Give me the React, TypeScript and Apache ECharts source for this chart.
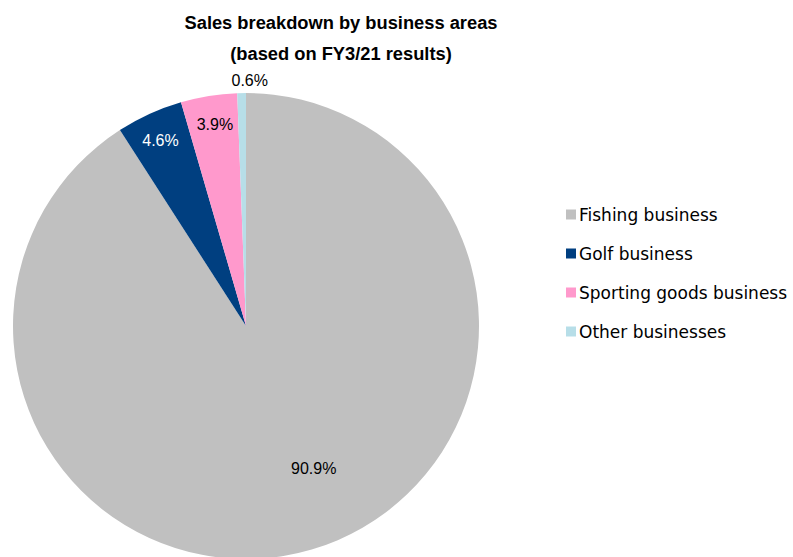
import React, { useEffect, useRef } from "react";
import * as echarts from "echarts";

const categories = ["Fishing business", "Golf business", "Sporting goods business", "Other businesses"];
const shares = [90.9, 4.6, 3.9, 0.6];
const colors = ["#c0c0c0", "#003f80", "#ff99cc", "#b7dee8"];
const labelColors = ["#000000", "#ffffff", "#000000", "#000000"];
const labelShift: [number, number][] = [[34, 28], [-36, -77], [-12, -84], [6, -126]];

const FONT = "Liberation Sans";
const LEGEND_FONT = "DejaVu Sans";

export default function App() {
  const ref = useRef<HTMLDivElement>(null);
  useEffect(() => {
    document.body.style.margin = "0";
    const chart = echarts.init(ref.current!, null, { renderer: "svg" });
    chart.setOption({
      animation: false,
      backgroundColor: "#ffffff",
      title: {
        text: "Sales breakdown by business areas\n(based on FY3/21 results)",
        left: 336,
        top: 2,
        textAlign: "center",
        textStyle: { fontFamily: FONT, fontSize: 18.3, fontWeight: "bold", color: "#000", lineHeight: 31 },
      },
      legend: {
        orient: "vertical",
        left: 561,
        top: 201,
        itemWidth: 10,
        itemHeight: 10,
        itemGap: 22,
        icon: "rect",
        textStyle: { fontFamily: LEGEND_FONT, fontSize: 17, color: "#000", padding: [0, 0, 0, -2] },
        data: categories,
      },
      series: [
        {
          type: "pie",
          center: [246, 326],
          radius: 233,
          startAngle: 90,
          clockwise: true,
          avoidLabelOverlap: false,
          label: {
            show: true,
            position: "inside",
            formatter: (p: any) => p.value.toFixed(1) + "%",
            fontFamily: FONT,
            fontSize: 16,
          },
          labelLine: { show: false },
          labelLayout: (p: any) => ({ dx: labelShift[p.dataIndex][0], dy: labelShift[p.dataIndex][1] }),
          itemStyle: { borderWidth: 0 },
          emphasis: { disabled: true },
          data: categories.map((name, i) => ({
            name,
            value: shares[i],
            itemStyle: { color: colors[i] },
            label: { color: labelColors[i] },
          })),
        },
      ],
    });
    return () => chart.dispose();
  }, []);
  return <div ref={ref} style={{ width: 793, height: 557 }} />;
}
